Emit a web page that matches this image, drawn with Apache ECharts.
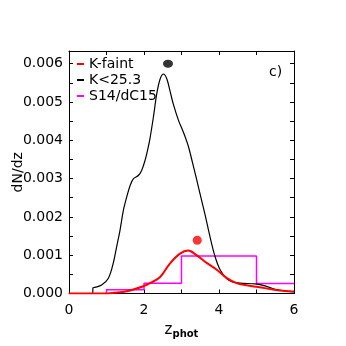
<!DOCTYPE html>
<html>
<head>
<meta charset="utf-8">
<script src="https://cdn.jsdelivr.net/npm/echarts@6/dist/echarts.min.js"></script>
<style>html,body{margin:0;padding:0;background:#fff;}#c{width:346px;height:346px;}</style>
</head>
<body>
<div id="c"></div>
<script>
// K<25.3 curve (black)
const blackZ = [0, 0.63, 0.64, 0.69, 0.87, 1.05, 1.18, 1.27, 1.36, 1.45, 1.54, 1.63, 1.72, 1.85, 1.94, 2.03, 2.1, 2.16, 2.25, 2.34, 2.43, 2.52, 2.61, 2.69, 2.78, 2.92, 3.05, 3.18, 3.31, 3.4, 3.49, 3.63, 3.76, 3.89, 4.03, 4.21, 4.34, 4.56, 4.96, 5.23, 5.49, 5.75, 6.0];
const blackY = [0, 0, 0.00015, 0.00016, 0.00022, 0.0004, 0.00079, 0.00122, 0.00165, 0.00217, 0.00252, 0.00282, 0.003, 0.00308, 0.00322, 0.00348, 0.00376, 0.00405, 0.0046, 0.00521, 0.0056, 0.00573, 0.0056, 0.0053, 0.00495, 0.00452, 0.00421, 0.00385, 0.00335, 0.00299, 0.00262, 0.00205, 0.00148, 0.00098, 0.00062, 0.00038, 0.00031, 0.00027, 0.00025, 0.0002, 0.00011, 0.00007, 0.00004];
// K-faint curve (red)
const redZ = [0, 0.9, 1.2, 1.54, 1.98, 2.2, 2.43, 2.69, 2.96, 3.18, 3.4, 3.67, 3.94, 4.21, 4.47, 4.69, 5.05, 5.4, 5.7, 6.0];
const redY = [0, 0, 0.00002, 0.00006, 0.00019, 0.00029, 0.00043, 0.00078, 0.00104, 0.00112, 0.001, 0.0008, 0.00062, 0.0004, 0.00027, 0.00022, 0.00017, 0.00011, 0.00007, 0.00005];
// S14/dC15 histogram (magenta)
const binEdges = [1, 2, 3, 5, 6];
const binValues = [0.0001, 0.00027, 0.00098, 0.00026];
// points
const blackDot = [2.64, 0.0060];
const redDot = [3.42, 0.00139];
const legendNames = ['K-faint', 'K<25.3', 'S14/dC15'];
const xTicks = [0, 2, 4, 6];
const yTickLabels = ['0.000', '0.001', '0.002', '0.003', '0.004', '0.005', '0.006'];

const font = 'DejaVu Sans';
const zip = (a, b) => a.map((v, i) => [v, b[i]]);
const histPts = [[binEdges[0], 0]];
binValues.forEach((v, i) => { histPts.push([binEdges[i], v]); histPts.push([binEdges[i + 1], v]); });

const chart = echarts.init(document.getElementById('c'), null, {renderer: 'canvas'});
const axisBase = {
  type: 'value', min: 0,
  axisLine: {show: true, onZero: false, lineStyle: {color: '#000', width: 1}},
  splitLine: {show: false},
  axisTick: {show: true, inside: true, length: 4, lineStyle: {color: '#000'}}
};
chart.setOption({
  animation: false,
  backgroundColor: '#fff',
  grid: {left: 69, right: 52, top: 51, bottom: 52.5, containLabel: false, outerBoundsMode: 'none'},
  xAxis: [
    Object.assign({}, axisBase, {
      position: 'bottom', max: 6, interval: 1,
      name: '{a|z}{b|phot}', nameLocation: 'middle', nameGap: 26,
      nameTextStyle: {rich: {a: {fontFamily: font, fontSize: 15, color: '#000'}, b: {fontFamily: font, fontSize: 10, fontWeight: 'bold', color: '#000', padding: [9, 0, 0, 0]}}},
      axisLabel: {margin: 10, fontFamily: font, fontSize: 14, color: '#000',
        formatter: v => xTicks.indexOf(Math.round(v * 1000) / 1000) >= 0 ? String(Math.round(v)) : ''}
    }),
    Object.assign({}, axisBase, {position: 'top', max: 6, interval: 1, axisLabel: {show: false}})
  ],
  yAxis: [
    Object.assign({}, axisBase, {
      position: 'left', max: 0.00633, interval: 0.0005,
      name: 'dN/dz', nameLocation: 'middle', nameGap: 44, nameMoveOverlap: false,
      nameTextStyle: {fontFamily: font, fontSize: 14, color: '#000'},
      axisLabel: {margin: 6, fontFamily: font, fontSize: 14, color: '#000',
        formatter: v => { const k = Math.round(v / 0.0005); return (k % 2 === 0 && k / 2 < yTickLabels.length) ? yTickLabels[k / 2] : ''; }}
    }),
    Object.assign({}, axisBase, {position: 'right', max: 0.00633, interval: 0.0005, axisLabel: {show: false}})
  ],
  legend: {
    data: legendNames, orient: 'vertical', left: 72, top: 51,
    icon: 'rect', itemWidth: 7, itemHeight: 2, itemGap: 0,
    textStyle: {fontFamily: font, fontSize: 14, color: '#000', lineHeight: 16},
    selectedMode: false
  },
  graphic: [{type: 'text', left: 269, top: 65, style: {text: 'c)', font: '14px "DejaVu Sans"', fill: '#000'}}],
  series: [
    {name: 'S14/dC15', type: 'line', data: histPts, showSymbol: false, lineStyle: {color: '#ff00ff', width: 1.5}, itemStyle: {color: '#ff00ff'}, z: 2},
    {name: 'K<25.3', type: 'line', data: zip(blackZ, blackY), showSymbol: false, smooth: 0.35, lineStyle: {color: '#000', width: 1.2}, itemStyle: {color: '#000'}, z: 3},
    {name: 'K-faint', type: 'line', data: zip(redZ, redY), showSymbol: false, smooth: 0.35, lineStyle: {color: '#ff0000', width: 2}, itemStyle: {color: '#ff0000'}, z: 4},
    {name: 'dotBlack', type: 'scatter', data: [blackDot], symbol: 'circle', symbolSize: [10, 8], itemStyle: {color: '#000'}, z: 5},
    {name: 'dotRed', type: 'scatter', data: [redDot], symbol: 'circle', symbolSize: 9, itemStyle: {color: '#ff0000'}, z: 5}
  ]
});
</script>
</body>
</html>
